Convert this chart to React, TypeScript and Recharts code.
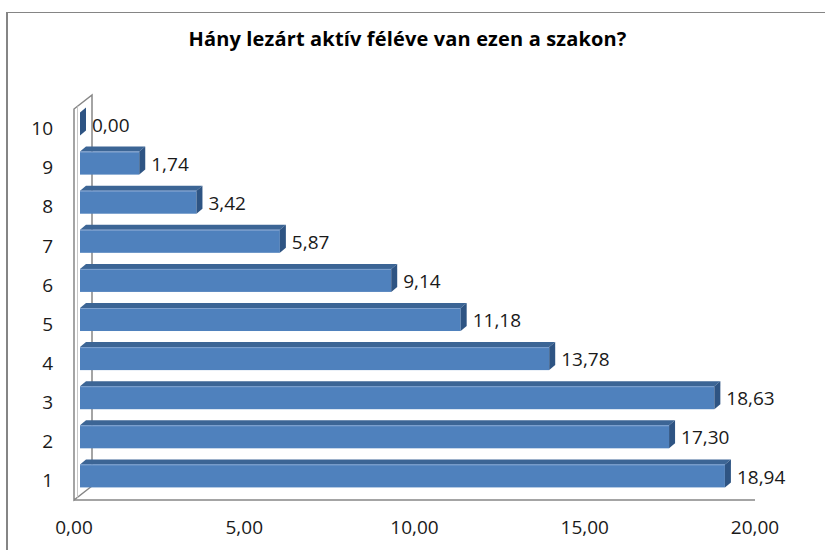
import React from 'react';
import { BarChart, Bar, XAxis, YAxis, LabelList, ReferenceArea } from 'recharts';

const categories = ['1', '2', '3', '4', '5', '6', '7', '8', '9', '10'];
const values = [18.94, 17.3, 18.63, 13.78, 11.18, 9.14, 5.87, 3.42, 1.74, 0.0];
const xTicks = [0, 5, 10, 15, 20];
const title = 'Hány lezárt aktív féléve van ezen a szakon?';

const data = categories.map((c, i) => ({ cat: c, value: values[i] }));

const FONT = '"Open Sans", "Liberation Sans", sans-serif';
const fmt = (v: number) => Number(v).toFixed(2).replace('.', ',');

// 3D projection offsets
const PX = 6; // bar plane offset from front plane (x)
const PY = 4.7; // bar plane offset (y, upwards)
const BD = 6; // bar depth x
const BDY = 5; // bar depth y
const WX = 18; // wall depth x
const WY = 14; // wall depth y

const FRONT = '#4F81BD';
const TOP = '#3C6595';
const SIDE = '#2E5483';
const GRID = '#868686';

const Bar3D = (props: any) => {
  const { x, y, width, height } = props;
  const fx = x + PX;
  const fy = y - PY;
  const w = Math.max(0, width);
  return (
    <g>
      <polygon
        points={`${fx},${fy} ${fx + BD},${fy - BDY} ${fx + w + BD},${fy - BDY} ${fx + w},${fy}`}
        fill={TOP}
      />
      <rect x={fx} y={fy} width={w} height={height} fill={FRONT} />
      <line x1={fx} y1={fy + 0.5} x2={fx + w} y2={fy + 0.5} stroke="#7EA1CF" strokeWidth={1} />
      <polygon
        points={`${fx + w},${fy} ${fx + w + BD},${fy - BDY} ${fx + w + BD},${fy + height - BDY} ${fx + w},${fy + height}`}
        fill={SIDE}
      />
    </g>
  );
};

const Wall = (props: any) => {
  const { x, y, width, height } = props;
  const b = y + height;
  return (
    <g fill="none">
      <polygon
        points={`${x},${y} ${x + WX},${y - WY} ${x + WX},${b - WY} ${x},${b}`}
        fill="#ffffff"
        stroke={GRID}
        strokeWidth={1.5}
      />
      <line x1={x + 3.5} y1={y - 2.5} x2={x + 3.5} y2={b - 2.5} stroke="#c8c8c8" strokeWidth={1} />
      <line x1={x} y1={b} x2={x + width} y2={b} stroke={GRID} strokeWidth={1.5} />
    </g>
  );
};

const ValueLabel = (props: any) => {
  const { x, y, width, height, value } = props;
  const lx = x + Math.max(0, width) + PX + BD + 6;
  const ly = y - PY + height / 2;
  return (
    <text
      x={lx}
      y={ly}
      dy="0.4em"
      textAnchor="start"
      fontFamily={FONT}
      fontSize={19}
      fill="#1a1a1a"
    >
      {fmt(value)}
    </text>
  );
};

export default function App() {
  return (
    <div
      style={{
        position: 'absolute',
        left: 0,
        top: 0,
        width: 825,
        height: 550,
        overflow: 'hidden',
        background: '#ffffff',
      }}
    >
      <div
        style={{
          position: 'absolute',
          left: 6,
          top: 11.5,
          width: 900,
          height: 700,
          borderLeft: '2px solid #858585',
          borderTop: '1.5px solid #858585',
        }}
      />
      <div
        style={{
          position: 'absolute',
          left: 0,
          top: 29,
          width: 815,
          textAlign: 'center',
          fontFamily: FONT,
          fontWeight: 700,
          fontSize: 20,
          lineHeight: '20px',
          color: '#000',
          letterSpacing: 0.15,
          whiteSpace: 'nowrap',
        }}
      >
        {title}
      </div>
      <div style={{ position: 'absolute', left: 0, top: 0 }}>
        <BarChart
          width={825}
          height={550}
          data={data}
          layout="vertical"
          margin={{ top: 109, right: 70, bottom: 0, left: 0 }}
          barCategoryGap="21%"
        >
          <XAxis
            type="number"
            domain={[0, 20]}
            ticks={xTicks}
            tickFormatter={fmt}
            height={50}
            axisLine={false}
            tickLine={false}
            tickSize={0}
            tickMargin={21}
            interval={0}
            tick={{ fontFamily: FONT, fontSize: 19, fill: '#1a1a1a' }}
          />
          <YAxis
            type="category"
            dataKey="cat"
            reversed
            width={74}
            axisLine={false}
            tickLine={false}
            tickSize={0}
            tickMargin={21}
            interval={0}
            tick={{ fontFamily: FONT, fontSize: 19, fill: '#1a1a1a' }}
          />
          <ReferenceArea x1={0} x2={20} shape={<Wall />} ifOverflow="visible" />
          <Bar dataKey="value" shape={<Bar3D />} isAnimationActive={false}>
            <LabelList dataKey="value" content={<ValueLabel />} />
          </Bar>
        </BarChart>
      </div>
    </div>
  );
}
